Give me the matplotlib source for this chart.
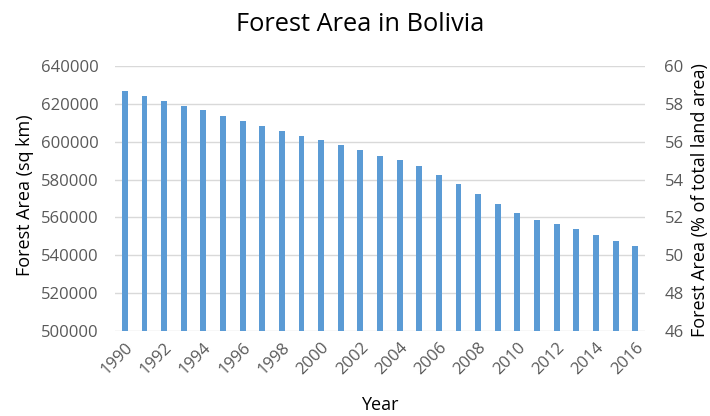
import matplotlib.pyplot as plt
import numpy as np

plt.rcParams['font.family'] = ['Open Sans', 'DejaVu Sans']

years = list(range(1990, 2017))
forest_sq_km = [
    627000, 624000, 621700, 619000, 616500, 613700, 610800, 608400, 605500,
    603100, 600700, 598400, 595600, 592500, 590200, 587200, 582600, 577400,
    572600, 567300, 562200, 558900, 556600, 553700, 550600, 547800, 544900,
]
left_ticks = [500000, 520000, 540000, 560000, 580000, 600000, 620000, 640000]
right_ticks = [46, 48, 50, 52, 54, 56, 58, 60]

tick_color = '#595959'
grid_color = '#d9d9d9'
bar_color = '#5b9bd5'

fig = plt.figure(figsize=(7.10, 4.16), dpi=100)
ax = fig.add_axes([115 / 710, 1 - 331 / 416, 530 / 710, 265 / 416])

x = np.arange(len(years))
ax.bar(x, forest_sq_km, width=0.3, color=bar_color, zorder=3)

ax.set_xlim(-0.5, len(years) - 0.5)
ax.set_ylim(left_ticks[0], left_ticks[-1])
ax.set_yticks(left_ticks)
ax.set_yticklabels([str(t) for t in left_ticks])
ax.set_xticks(x[::2])
ax.set_xticklabels([str(y) for y in years[::2]], rotation=45, ha='right',
                   rotation_mode='anchor')
ax.grid(axis='y', color=grid_color, lw=1, zorder=0)
ax.tick_params(axis='both', length=0, labelsize=12, colors=tick_color)
ax.tick_params(axis='y', pad=12)
ax.tick_params(axis='x', pad=6)
for s in ax.spines.values():
    s.set_visible(False)

ax2 = ax.twinx()
ax2.set_ylim(right_ticks[0], right_ticks[-1])
ax2.set_yticks(right_ticks)
ax2.tick_params(axis='y', length=0, labelsize=12, colors=tick_color, pad=14)
for s in ax2.spines.values():
    s.set_visible(False)

fig.text(0.508, 0.94, 'Forest Area in Bolivia', ha='center', va='center',
         fontsize=18.3)
fig.text(25 / 710, 1 - 195 / 416, 'Forest Area (sq km)', rotation=90,
         ha='center', va='center', fontsize=13)
fig.text(700 / 710, 1 - 200 / 416, 'Forest Area (% of total land area)',
         rotation=90, ha='center', va='center', fontsize=13)
fig.text(380 / 710, 1 - 405 / 416, 'Year', ha='center', va='center',
         fontsize=13)

fig.savefig('out.png', dpi=100)
